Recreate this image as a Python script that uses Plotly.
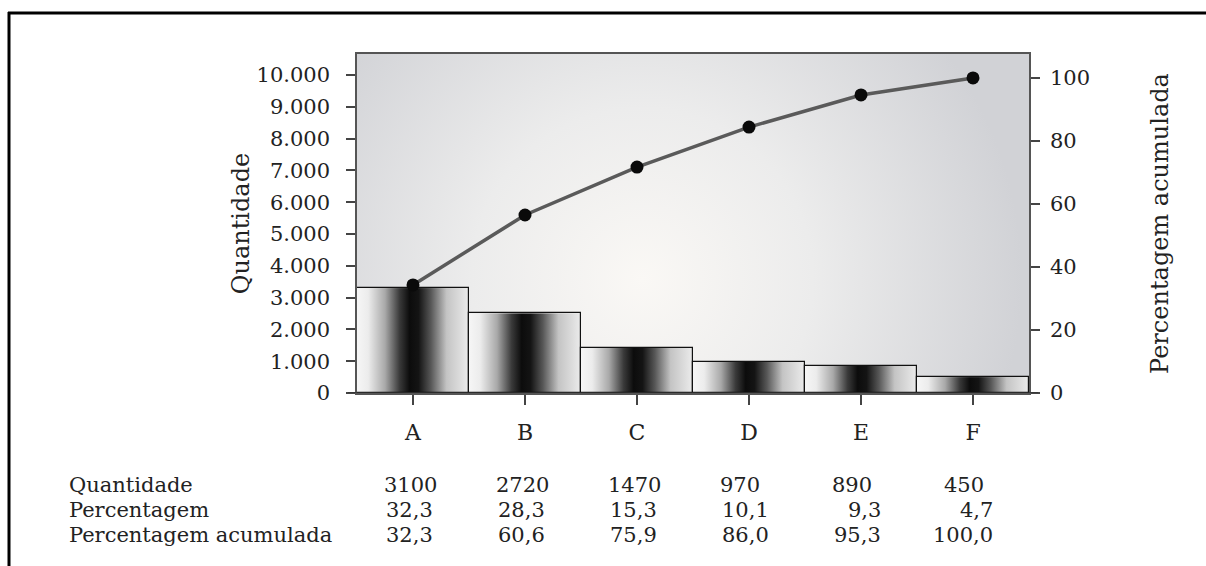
import base64
import plotly.graph_objects as go

# ---------------- data ----------------
categories = ["A", "B", "C", "D", "E", "F"]
bar_heights = [3300, 2510, 1420, 980, 850, 500]          # as drawn (left axis)
cumulative_line = [34.3, 56.5, 71.7, 84.4, 94.6, 100.0]  # as drawn (right axis)
left_ticks = list(range(0, 10001, 1000))
right_ticks = [0, 20, 40, 60, 80, 100]

row_labels = ["Quantidade", "Percentagem", "Percentagem acumulada"]
table_quantidade = ["3100", "2720", "1470", "970", "890", "450"]
table_percentagem = ["32,3", "28,3", "15,3", "10,1", "9,3", "4,7"]
table_acumulada = ["32,3", "60,6", "75,9", "86,0", "95,3", "100,0"]

FONT = "DejaVu Serif"
TXT = "#222222"
W, H = 1206, 566
L, R, T, B = 357, 177, 54, 173
PW, PH = W - L - R, H - T - B


def px_x(px):
    return (px - L) / PW


def px_y(py):
    return (H - B - py) / PH


def svg_uri(svg):
    return "data:image/svg+xml;base64," + base64.b64encode(svg.encode()).decode()


bg_svg = (
    '<svg xmlns="http://www.w3.org/2000/svg" width="672" height="339" viewBox="0 0 672 339" '
    'preserveAspectRatio="none"><defs><radialGradient id="g" gradientUnits="userSpaceOnUse" '
    'cx="285" cy="225" r="380">'
    '<stop offset="0" stop-color="#faf8f5"/><stop offset="0.45" stop-color="#ececec"/>'
    '<stop offset="1" stop-color="#d1d2d6"/></radialGradient></defs>'
    '<rect x="0" y="0" width="672" height="339" fill="url(#g)"/></svg>'
)

bar_svg = (
    '<svg xmlns="http://www.w3.org/2000/svg" width="100" height="100" viewBox="0 0 100 100" '
    'preserveAspectRatio="none"><defs><linearGradient id="b" x1="0" y1="0" x2="1" y2="0">'
    '<stop offset="0" stop-color="#f6f6f6"/><stop offset="0.1" stop-color="#ececec"/>'
    '<stop offset="0.25" stop-color="#a9a9a9"/><stop offset="0.38" stop-color="#3a3a3a"/>'
    '<stop offset="0.47" stop-color="#0c0c0c"/><stop offset="0.55" stop-color="#141414"/>'
    '<stop offset="0.66" stop-color="#575757"/><stop offset="0.8" stop-color="#c4c4c4"/>'
    '<stop offset="1" stop-color="#ececec"/></linearGradient></defs>'
    '<rect x="0" y="0" width="100" height="100" fill="url(#b)"/></svg>'
)

xs = list(range(len(categories)))

fig = go.Figure()
fig.add_trace(go.Bar(
    x=xs, y=bar_heights, width=1,
    marker=dict(color="rgba(0,0,0,0)", line=dict(color="#111111", width=1.2)),
    hoverinfo="skip", showlegend=False,
))
fig.add_trace(go.Scatter(
    x=xs, y=cumulative_line, yaxis="y2", mode="lines+markers",
    line=dict(color="#5a5a5a", width=3.5),
    marker=dict(color="#0a0a0a", size=13),
    showlegend=False,
))

images = [dict(source=svg_uri(bg_svg), xref="paper", yref="paper", x=0, y=1,
               sizex=1, sizey=1, sizing="stretch", xanchor="left", yanchor="top",
               layer="below")]
for i, h in zip(xs, bar_heights):
    images.append(dict(source=svg_uri(bar_svg), xref="x", yref="y", x=i - 0.5, y=h,
                       sizex=1, sizey=h, sizing="stretch", xanchor="left",
                       yanchor="top", layer="below"))

TFONT = dict(family=FONT, size=21, color=TXT)
annotations = []
row_y = [px_y(485), px_y(510), px_y(535)]
for lab, yy in zip(row_labels, row_y):
    annotations.append(dict(text=lab, xref="paper", yref="paper", x=px_x(67), y=yy,
                            xanchor="left", yanchor="middle", showarrow=False,
                            font=TFONT))
for i in xs:
    annotations.append(dict(text=table_quantidade[i], xref="x", yref="paper", x=i,
                            y=row_y[0], xanchor="left", yanchor="middle", xshift=-31,
                            showarrow=False, font=TFONT))
    annotations.append(dict(text=table_percentagem[i], xref="x", yref="paper", x=i,
                            y=row_y[1], xanchor="right", yanchor="middle", xshift=22,
                            showarrow=False, font=TFONT))
    annotations.append(dict(text=table_acumulada[i], xref="x", yref="paper", x=i,
                            y=row_y[2], xanchor="right", yanchor="middle", xshift=22,
                            showarrow=False, font=TFONT))

shapes = [
    # extended baseline
    dict(type="line", xref="paper", yref="y", x0=px_x(348), x1=px_x(1038), y0=0, y1=0,
         line=dict(color="#333333", width=1.5)),
    # outer frame (left + top)
    dict(type="line", xref="paper", yref="paper", x0=px_x(9), x1=px_x(9),
         y0=px_y(12), y1=px_y(570), line=dict(color="#000000", width=3)),
    dict(type="line", xref="paper", yref="paper", x0=px_x(8), x1=px_x(1210),
         y0=px_y(13), y1=px_y(13), line=dict(color="#000000", width=3)),
]

tick_font = dict(family=FONT, size=21, color=TXT)
title_font = dict(family=FONT, size=24, color=TXT)
xtick_font = dict(family=FONT, size=22, color=TXT)

fig.update_layout(
    width=W, height=H,
    margin=dict(l=L, r=R, t=T, b=B, autoexpand=False),
    paper_bgcolor="white", plot_bgcolor="#e4e4e6",
    separators=",.",
    bargap=0,
    images=images, annotations=annotations, shapes=shapes,
    xaxis=dict(range=[-0.5, 5.5], tickvals=xs, ticktext=categories,
               showgrid=False, zeroline=False, showline=True, mirror=True,
               linecolor="#555555", linewidth=1.5,
               ticks="outside", ticklen=10, tickwidth=1.5, tickcolor="#444444",
               ticklabelstandoff=9, tickfont=xtick_font),
    yaxis=dict(range=[0, 10660], tickvals=left_ticks, tickformat=",d",
               showgrid=False, zeroline=False, showline=True,
               linecolor="#555555", linewidth=1.5,
               ticks="outside", ticklen=9, tickwidth=1.5, tickcolor="#444444",
               ticklabelstandoff=12, tickfont=tick_font,
               title=dict(text="Quantidade", font=title_font, standoff=0)),
    yaxis2=dict(range=[0, 107.6], tickvals=right_ticks, overlaying="y", side="right",
                showgrid=False, zeroline=False, showline=True,
                linecolor="#555555", linewidth=1.5,
                ticks="outside", ticklen=9, tickwidth=1.5, tickcolor="#444444",
                ticklabelstandoff=6, tickfont=tick_font,
                title=dict(text="Percentagem acumulada", font=title_font, standoff=62)),
)

fig.write_html("out.html", config={"displayModeBar": False},
               post_script="document.body.style.margin='0';")
